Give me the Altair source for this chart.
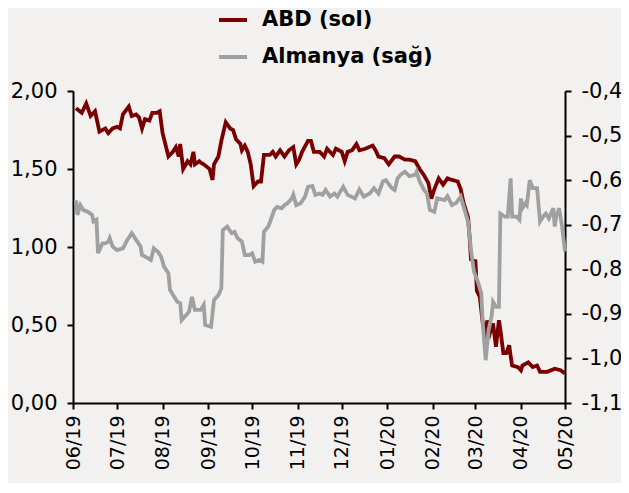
import altair as alt
import pandas as pd

us_dates = ["2019-06-03","2019-06-07","2019-06-10","2019-06-13","2019-06-16","2019-06-19","2019-06-23","2019-06-25","2019-06-28",
"2019-07-01","2019-07-03","2019-07-05","2019-07-09","2019-07-11","2019-07-14","2019-07-16","2019-07-18","2019-07-20","2019-07-23","2019-07-25","2019-07-28","2019-07-30",
"2019-08-01","2019-08-05","2019-08-08","2019-08-10","2019-08-12","2019-08-13","2019-08-15","2019-08-18","2019-08-20","2019-08-22","2019-08-23","2019-08-26","2019-08-27","2019-08-29",
"2019-09-02","2019-09-04","2019-09-05","2019-09-08","2019-09-10","2019-09-13","2019-09-16","2019-09-18","2019-09-20","2019-09-23","2019-09-24","2019-09-26","2019-09-28","2019-09-30",
"2019-10-02","2019-10-05","2019-10-07","2019-10-09","2019-10-13","2019-10-15","2019-10-17","2019-10-20","2019-10-23","2019-10-26","2019-10-29","2019-10-31",
"2019-11-02","2019-11-04","2019-11-08","2019-11-10","2019-11-12","2019-11-16","2019-11-19","2019-11-21","2019-11-25","2019-11-27",
"2019-12-01","2019-12-03","2019-12-05","2019-12-08","2019-12-11","2019-12-13","2019-12-17","2019-12-22","2019-12-24","2019-12-26","2019-12-30",
"2020-01-02","2020-01-06","2020-01-09","2020-01-13","2020-01-16","2020-01-20","2020-01-23","2020-01-26","2020-01-29","2020-01-31",
"2020-02-02","2020-02-05","2020-02-08","2020-02-11","2020-02-14","2020-02-18","2020-02-20","2020-02-22","2020-02-25","2020-02-26","2020-02-27",
"2020-03-01","2020-03-02","2020-03-04","2020-03-06","2020-03-08","2020-03-09","2020-03-11","2020-03-13","2020-03-15","2020-03-17","2020-03-18","2020-03-20","2020-03-22","2020-03-24","2020-03-25","2020-03-26","2020-03-30",
"2020-04-01","2020-04-02","2020-04-06","2020-04-09","2020-04-12","2020-04-14","2020-04-19","2020-04-24","2020-04-28","2020-05-01"]
us_values = [1.89,1.86,1.92,1.84,1.87,1.74,1.76,1.73,1.76,
1.77,1.76,1.85,1.90,1.84,1.85,1.83,1.76,1.82,1.81,1.86,1.86,1.87,
1.73,1.58,1.61,1.64,1.58,1.66,1.50,1.55,1.53,1.61,1.53,1.55,1.54,1.53,
1.50,1.43,1.53,1.58,1.68,1.80,1.76,1.75,1.69,1.66,1.62,1.65,1.61,1.53,
1.39,1.42,1.42,1.59,1.59,1.61,1.58,1.62,1.58,1.62,1.64,1.53,
1.56,1.61,1.68,1.68,1.61,1.61,1.58,1.63,1.59,1.63,
1.61,1.55,1.61,1.62,1.66,1.62,1.63,1.65,1.62,1.58,1.57,
1.53,1.58,1.58,1.56,1.56,1.55,1.50,1.46,1.41,1.31,
1.37,1.44,1.40,1.44,1.43,1.42,1.37,1.28,1.19,1.07,0.92,
0.91,0.72,0.68,0.51,0.40,0.53,0.45,0.51,0.36,0.53,0.47,0.32,0.32,0.37,0.30,0.24,0.23,
0.21,0.24,0.26,0.23,0.24,0.20,0.20,0.22,0.21,0.19]

de_dates = ["2019-06-03","2019-06-04","2019-06-06","2019-06-08","2019-06-11","2019-06-14","2019-06-15","2019-06-17","2019-06-18","2019-06-19","2019-06-21","2019-06-23","2019-06-25","2019-06-26","2019-06-28",
"2019-07-01","2019-07-05","2019-07-08","2019-07-11","2019-07-14","2019-07-17","2019-07-18","2019-07-22","2019-07-24","2019-07-26","2019-07-29","2019-07-31",
"2019-08-02","2019-08-05","2019-08-06","2019-08-09","2019-08-11","2019-08-13","2019-08-14","2019-08-17","2019-08-19","2019-08-21","2019-08-23","2019-08-27","2019-08-29","2019-08-30",
"2019-09-03","2019-09-05","2019-09-08","2019-09-10","2019-09-11","2019-09-14","2019-09-17","2019-09-19","2019-09-21","2019-09-24","2019-09-26","2019-09-29",
"2019-10-01","2019-10-03","2019-10-06","2019-10-08","2019-10-09","2019-10-12","2019-10-14","2019-10-16","2019-10-18","2019-10-21","2019-10-23","2019-10-25","2019-10-28","2019-10-29","2019-10-31",
"2019-11-03","2019-11-06","2019-11-08","2019-11-11","2019-11-13","2019-11-16","2019-11-18","2019-11-20","2019-11-23","2019-11-26","2019-11-28",
"2019-12-02","2019-12-05","2019-12-10","2019-12-13","2019-12-16","2019-12-20","2019-12-23","2019-12-26","2019-12-29","2019-12-31",
"2020-01-04","2020-01-06","2020-01-08","2020-01-10","2020-01-13","2020-01-16","2020-01-20","2020-01-21","2020-01-23","2020-01-26","2020-01-28","2020-01-30",
"2020-02-02","2020-02-04","2020-02-09","2020-02-11","2020-02-14","2020-02-17","2020-02-20","2020-02-22","2020-02-25","2020-02-27","2020-02-29",
"2020-03-03","2020-03-05","2020-03-06","2020-03-08","2020-03-10","2020-03-12","2020-03-13","2020-03-15","2020-03-17","2020-03-18","2020-03-21","2020-03-23","2020-03-25","2020-03-26","2020-03-29","2020-03-31",
"2020-04-01","2020-04-02","2020-04-04","2020-04-05","2020-04-07","2020-04-09","2020-04-12","2020-04-14","2020-04-16","2020-04-18","2020-04-20","2020-04-23","2020-04-24","2020-04-25","2020-04-27","2020-04-29","2020-05-01"]
de_values = [-0.645,-0.678,-0.656,-0.667,-0.671,-0.678,-0.693,-0.689,-0.764,-0.757,-0.742,-0.742,-0.738,-0.730,-0.749,
-0.757,-0.753,-0.734,-0.719,-0.734,-0.749,-0.768,-0.775,-0.779,-0.753,-0.761,-0.772,
-0.794,-0.809,-0.846,-0.862,-0.873,-0.876,-0.914,-0.903,-0.895,-0.862,-0.891,-0.891,-0.880,-0.925,
-0.929,-0.869,-0.858,-0.843,-0.712,-0.704,-0.719,-0.716,-0.730,-0.738,-0.768,-0.768,
-0.764,-0.783,-0.779,-0.783,-0.716,-0.704,-0.686,-0.667,-0.660,-0.663,-0.656,-0.652,-0.641,-0.633,-0.656,
-0.652,-0.637,-0.615,-0.613,-0.633,-0.630,-0.633,-0.622,-0.637,-0.630,-0.637,
-0.615,-0.633,-0.641,-0.621,-0.637,-0.630,-0.618,-0.630,-0.603,-0.600,
-0.618,-0.622,-0.596,-0.588,-0.581,-0.591,-0.588,-0.581,-0.603,-0.622,-0.630,-0.667,
-0.671,-0.641,-0.645,-0.636,-0.656,-0.651,-0.637,-0.660,-0.693,-0.757,-0.805,
-0.831,-0.854,-0.921,-1.004,-0.936,-0.906,-0.873,-0.884,-0.884,-0.675,-0.682,-0.682,-0.596,-0.682,-0.682,-0.689,
-0.641,-0.663,-0.652,-0.656,-0.600,-0.618,-0.618,-0.693,-0.682,-0.675,-0.686,-0.663,-0.704,-0.682,-0.663,-0.704,-0.760]

series_names = ["ABD (sol)", "Almanya (sağ)"]
series_colors = ["#7a0000", "#a0a0a0"]
left_ticks = [0, 0.5, 1.0, 1.5, 2.0]
right_ticks = [-1.1, -1.0, -0.9, -0.8, -0.7, -0.6, -0.5, -0.4]
month_ticks = [(2019, m) for m in range(6, 13)] + [(2020, m) for m in range(1, 6)]

us_df = pd.DataFrame({"date": us_dates, "value": us_values, "series": series_names[0]})
de_df = pd.DataFrame({"date": de_dates, "value": de_values, "series": series_names[1]})

FONT = "DejaVu Sans"

x_enc = alt.X(
    "date:T",
    title=None,
    scale=alt.Scale(type="utc", domain=[alt.DateTime(year=2019, month=6, date=1, utc=True),
                                        alt.DateTime(year=2020, month=5, date=1, utc=True)]),
    axis=alt.Axis(values=[alt.DateTime(year=y, month=m, date=1, utc=True) for y, m in month_ticks],
                  labelExpr="utcFormat(datum.value, '%m/%y')", labelAngle=-90, labelPadding=6,
                  labelFontSize=19, labelFlush=False),
)

color_enc = alt.Color(
    "series:N",
    scale=alt.Scale(domain=series_names, range=series_colors),
    legend=alt.Legend(orient="none", legendX=144, legendY=-87, title=None, symbolType="stroke",
                      symbolSize=784, symbolStrokeWidth=4, labelFont=FONT, labelFontWeight="bold",
                      labelFontSize=21, labelOffset=13, rowPadding=11, padding=0, labelColor="black",
                      labelLimit=400),
)

us_line = alt.Chart(us_df).mark_line(strokeWidth=3.8).encode(
    x=x_enc,
    y=alt.Y("value:Q", title=None, scale=alt.Scale(domain=[0, 2], nice=False),
            axis=alt.Axis(orient="left", values=left_ticks, labelPadding=10,
                          labelExpr="replace(format(datum.value, '.2f'), '.', ',')")),
    color=color_enc,
)

de_line = alt.Chart(de_df).mark_line(strokeWidth=3.8).encode(
    x=x_enc,
    y=alt.Y("value:Q", title=None, scale=alt.Scale(domain=[-1.1, -0.4], nice=False, zero=False),
            axis=alt.Axis(orient="right", values=right_ticks, labelPadding=10,
                          labelExpr="'-' + replace(format(abs(datum.value), '.1f'), '.', ',')")),
    color=color_enc,
)

chart = alt.layer(us_line, de_line).resolve_scale(y="independent").properties(
    width=492, height=312,
    autosize=alt.AutoSizeParams(type="none"),
    padding={"left": 65, "top": 83, "right": 56, "bottom": 80},
    background="#f2f1ef",
).configure_view(stroke=None).configure_axis(
    grid=False, domainColor="black", domainWidth=2, tickColor="black", tickWidth=2, tickSize=6,
    labelFont=FONT, labelFontSize=21, labelColor="black",
)

chart.save("out.html", embed_options={"renderer": "svg", "actions": False})
